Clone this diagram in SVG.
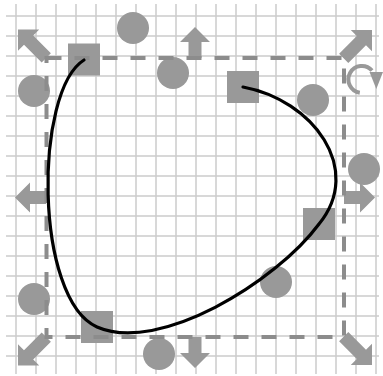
<svg xmlns="http://www.w3.org/2000/svg" width="383" height="376" viewBox="0 0 383 376">
<style>
.grid{stroke:#cccccc;stroke-width:1.5;fill:none}
.h{fill:#999999}
.sel{fill:none;stroke:#8c8c8c;stroke-width:4;stroke-dasharray:15 13}
.curve{fill:none;stroke:#000;stroke-width:3.2;stroke-linecap:round}
.rot{fill:none;stroke:#999999;stroke-width:4}
</style>
<defs>
<path id="sideArrow" d="M0,0 L15,15 L6.5,15 L6.5,31 L-6.5,31 L-6.5,15 L-15,15 Z"/>
<path id="cornerArrow" d="M0,0 L15,15 L6.5,15 L6.5,40 L-6.5,40 L-6.5,15 L-15,15 Z"/>
</defs>
<rect width="383" height="376" fill="#fff"/>
<path class="grid" d="M16 4V374M36 4V374M56 4V374M76 4V374M96 4V374M116 4V374M136 4V374M156 4V374M176 4V374M196 4V374M216 4V374M236 4V374M256 4V374M276 4V374M296 4V374M316 4V374M336 4V374M356 4V374M376 4V374M6 16H379M6 36H379M6 56H379M6 76H379M6 96H379M6 116H379M6 136H379M6 156H379M6 176H379M6 196H379M6 216H379M6 236H379M6 256H379M6 276H379M6 296H379M6 316H379M6 336H379M6 356H379"/>
<g id="handles">
<g id="resize-n"><use href="#sideArrow" class="h" transform="translate(195,27)"/></g>
<g id="resize-s"><use href="#sideArrow" class="h" transform="translate(195,368) rotate(180)"/></g>
<g id="resize-w"><use href="#sideArrow" class="h" transform="translate(15,197.5) rotate(-90)"/></g>
<g id="resize-e"><use href="#sideArrow" class="h" transform="translate(375,197.5) rotate(90)"/></g>
<g id="resize-nw"><use href="#cornerArrow" class="h" transform="translate(18,29.5) rotate(-45)"/></g>
<g id="resize-ne"><use href="#cornerArrow" class="h" transform="translate(372,30) rotate(45)"/></g>
<g id="resize-se"><use href="#cornerArrow" class="h" transform="translate(372,365) rotate(135)"/></g>
<g id="resize-sw"><use href="#cornerArrow" class="h" transform="translate(18,365.5) rotate(-135)"/></g>
<g id="rotate">
<path class="rot" d="M359.8,92.8 A13.5,13.5 0 1 1 372,70.5"/>
<polygon class="h" points="369.5,72 383,72 376.3,89"/>
</g>
<g id="ctrl-1"><circle class="h" cx="133" cy="28" r="16"/></g>
<g id="ctrl-2"><circle class="h" cx="173" cy="73" r="16"/></g>
<g id="ctrl-3"><circle class="h" cx="34" cy="91" r="16"/></g>
<g id="ctrl-4"><circle class="h" cx="313" cy="100" r="16"/></g>
<g id="ctrl-5"><circle class="h" cx="364" cy="169" r="16"/></g>
<g id="ctrl-6"><circle class="h" cx="276" cy="282" r="16"/></g>
<g id="ctrl-7"><circle class="h" cx="34" cy="299" r="16"/></g>
<g id="ctrl-8"><circle class="h" cx="159" cy="354" r="16"/></g>
<g id="anchor-1"><rect class="h" x="68" y="43.5" width="32" height="32"/></g>
<g id="anchor-2"><rect class="h" x="227" y="71" width="32" height="32"/></g>
<g id="anchor-3"><rect class="h" x="303" y="208" width="32" height="32"/></g>
<g id="anchor-4"><rect class="h" x="81" y="311" width="32" height="32"/></g>
</g>
<g id="selection"><rect class="sel" x="46.5" y="58" width="297.5" height="279"/></g>
<g id="connectors">
<path class="curve" d="M243,87 C313,100 364,169 319,224 C276,282 159,354 97,327 C34,299 34,91 84,60"/>
</g>
</svg>
